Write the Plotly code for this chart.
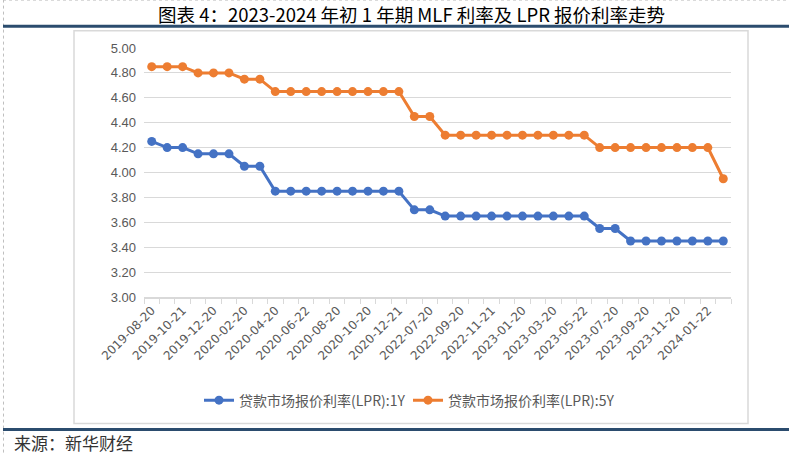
import plotly.graph_objects as go

dates = [
    "2019-08-20", "2019-09-20", "2019-10-21", "2019-11-20", "2019-12-20",
    "2020-01-20", "2020-02-20", "2020-03-20", "2020-04-20", "2020-05-20",
    "2020-06-22", "2020-07-20", "2020-08-20", "2020-09-21", "2020-10-20",
    "2020-11-20", "2020-12-21", "2022-06-20", "2022-07-20", "2022-08-22",
    "2022-09-20", "2022-10-20", "2022-11-21", "2022-12-20", "2023-01-20",
    "2023-02-20", "2023-03-20", "2023-04-20", "2023-05-22", "2023-06-20",
    "2023-07-20", "2023-08-21", "2023-09-20", "2023-10-20", "2023-11-20",
    "2023-12-20", "2024-01-22", "2024-02-20",
]
lpr_1y = [
    4.25, 4.20, 4.20, 4.15, 4.15, 4.15, 4.05, 4.05, 3.85, 3.85,
    3.85, 3.85, 3.85, 3.85, 3.85, 3.85, 3.85, 3.70, 3.70, 3.65,
    3.65, 3.65, 3.65, 3.65, 3.65, 3.65, 3.65, 3.65, 3.65, 3.55,
    3.55, 3.45, 3.45, 3.45, 3.45, 3.45, 3.45, 3.45,
]
lpr_5y = [
    4.85, 4.85, 4.85, 4.80, 4.80, 4.80, 4.75, 4.75, 4.65, 4.65,
    4.65, 4.65, 4.65, 4.65, 4.65, 4.65, 4.65, 4.45, 4.45, 4.30,
    4.30, 4.30, 4.30, 4.30, 4.30, 4.30, 4.30, 4.30, 4.30, 4.20,
    4.20, 4.20, 4.20, 4.20, 4.20, 4.20, 4.20, 3.95,
]
tick_labels = [d if i % 2 == 0 else "" for i, d in enumerate(dates)]
series_names = ["贷款市场报价利率(LPR):1Y", "贷款市场报价利率(LPR):5Y"]
colors = ["#4472C4", "#ED7D31"]
title_text = "图表 4：2023-2024 年初 1 年期 MLF 利率及 LPR 报价利率走势"
source_text = "来源：新华财经"

W, H = 789, 454
L, R, T, B = 144, 731, 48.3, 296.7


def px2x(px):
    return (px - L) / (R - L)


def px2y(py):
    return (B - py) / (B - T)


fig = go.Figure()
for name, vals, c in zip(series_names, [lpr_1y, lpr_5y], colors):
    fig.add_trace(go.Scatter(
        x=dates, y=vals, name=name, mode="lines+markers",
        line=dict(color=c, width=3),
        marker=dict(color=c, size=9),
    ))

font_cjk = "Noto Sans CJK SC"
shapes = [
    dict(type="line", xref="paper", yref="paper", x0=px2x(3), x1=px2x(789), y0=px2y(0.5), y1=px2y(0.5),
         line=dict(color="#BFBFBF", width=1, dash="dot")),
    dict(type="line", xref="paper", yref="paper", x0=px2x(3.5), x1=px2x(3.5), y0=px2y(0), y1=px2y(454),
         line=dict(color="#BFBFBF", width=1, dash="dot")),
    dict(type="line", xref="paper", yref="paper", x0=px2x(3), x1=px2x(789), y0=px2y(26.5), y1=px2y(26.5),
         line=dict(color="#2B4C6E", width=3)),
    dict(type="line", xref="paper", yref="paper", x0=px2x(3), x1=px2x(789), y0=px2y(429), y1=px2y(429),
         line=dict(color="#2B4C6E", width=3)),
    dict(type="rect", xref="paper", yref="paper", x0=px2x(74), x1=px2x(748), y0=px2y(31), y1=px2y(423),
         line=dict(color="#D9D9D9", width=1.5), layer="below"),
]

fig.update_layout(
    width=W, height=H,
    margin=dict(l=L, r=W - R, t=T, b=H - B, pad=0),
    paper_bgcolor="white", plot_bgcolor="white",
    font=dict(family=font_cjk, color="#595959", size=12),
    showlegend=True,
    legend=dict(
        orientation="h", x=px2x(408), y=px2y(400), xanchor="center", yanchor="middle",
        font=dict(family=font_cjk, size=14, color="#595959"),
        itemwidth=30, entrywidth=164, entrywidthmode="pixels",
        bgcolor="rgba(0,0,0,0)",
    ),
    xaxis=dict(
        type="category", tickmode="array", tickvals=dates, ticktext=tick_labels,
        tickangle=-45, tickson="boundaries", ticks="outside", ticklen=5,
        tickcolor="#D9D9D9", tickwidth=1.2,
        showline=True, linecolor="#D9D9D9", linewidth=1.5,
        showgrid=False, zeroline=False,
        tickfont=dict(family="DejaVu Sans", size=12, color="#595959"),
        range=[-0.5, len(dates) - 0.5],
    ),
    yaxis=dict(
        range=[3.0, 5.0], dtick=0.2, tick0=3.0, tickformat=".2f",
        showgrid=True, gridcolor="#D9D9D9", gridwidth=1.3,
        zeroline=False, showline=False, ticks="", ticklabelstandoff=7,
        tickfont=dict(family="Liberation Sans", size=13, color="#595959"),
    ),
    shapes=shapes,
    annotations=[
        dict(text=title_text, xref="paper", yref="paper", x=px2x(411), y=px2y(14.5),
             xanchor="center", yanchor="middle", showarrow=False,
             font=dict(family=font_cjk, size=18.5, color="#000000")),
        dict(text=source_text, xref="paper", yref="paper", x=px2x(12), y=px2y(442),
             xanchor="left", yanchor="middle", showarrow=False,
             font=dict(family=font_cjk, size=17, color="#333333")),
    ],
)

fig.write_html(
    "out.html",
    config={"displayModeBar": False},
    post_script="document.body.style.margin='0';document.body.style.padding='0';",
)
